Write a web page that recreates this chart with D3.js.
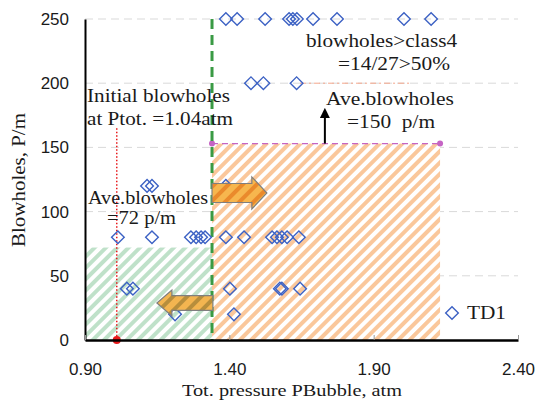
<!DOCTYPE html>
<html>
<head>
<meta charset="utf-8">
<script src="https://cdn.jsdelivr.net/npm/d3@7"></script>
<style>
  html, body { margin: 0; padding: 0; background: #fff; }
  svg { display: block; }
</style>
</head>
<body>
<svg id="chart" width="535" height="408"></svg>
<script>
// ---- data ----
const pressureTD1 = [
  1.388, 1.427, 1.524, 1.607, 1.620, 1.634, 1.690, 1.773, 2.005, 2.099,
  1.475, 1.518, 1.633,
  1.115, 1.132, 1.388,
  1.014, 1.132, 1.267, 1.285, 1.302, 1.316, 1.388, 1.451, 1.548, 1.565, 1.582, 1.600, 1.641,
  1.045, 1.066, 1.402, 1.575, 1.582, 1.645,
  1.212, 1.416
];
const blowholesTD1 = [
  250, 250, 250, 250, 250, 250, 250, 250, 250, 250,
  200, 200, 200,
  120, 120, 120,
  80, 80, 80, 80, 80, 80, 80, 80, 80, 80, 80, 80, 80,
  40, 40, 40, 40, 40, 40,
  20, 20
];
const xTicks = [0.90, 1.40, 1.90, 2.40];
const yTicks = [0, 50, 100, 150, 200, 250];
const thresholdP = 1.34;      // green dashed line
const initialP = 1.01;        // red dotted line
const initialTop = 165;
const aveLow = 72;            // green region height
const aveHigh = 153;          // orange region height
const highEndP = 2.13;        // orange region right end
const class4Line = [1.645, 2.026]; // faint line at 200
const upArrow = {x: 1.731, y0: 153, y1: 180};
const rightArrow = {x0: 1.34, xb: 1.478, xt: 1.530, y: 114.5, bh: 7.4, hh: 12.5};
const leftArrow = {x0: 1.343, xb: 1.201, xt: 1.149, y: 28.8, bh: 5.8, hh: 10.1};

const W = 535, H = 408;
const m = {left: 85, top: 19, right: 17, bottom: 68};
const svg = d3.select("#chart");
const x = d3.scaleLinear().domain([0.9, 2.4]).range([m.left, W - m.right]);
const y = d3.scaleLinear().domain([0, 250]).range([H - m.bottom, m.top]);

const defs = svg.append("defs");
function hatch(id, color, bg, w, sw) {
  const p = defs.append("pattern").attr("id", id)
    .attr("patternUnits", "userSpaceOnUse")
    .attr("width", w).attr("height", w)
    .attr("patternTransform", "rotate(45)");
  p.append("rect").attr("width", w).attr("height", w).attr("fill", bg);
  p.append("rect").attr("width", sw).attr("height", w).attr("fill", color);
}
hatch("hOrange", "#fac79b", "#ffffff", 8, 4);
hatch("hGreen", "#bfe1c9", "#ffffff", 8, 4);
hatch("hArrowR", "#ea8a2c", "#f7b64e", 10, 4);
hatch("hArrowL", "#b78e3c", "#f3b550", 10, 4);

// grid
svg.append("g").selectAll("line").data(yTicks.filter(d => d > 0)).join("line")
  .attr("x1", x(0.9)).attr("x2", x(2.4))
  .attr("y1", d => y(d)).attr("y2", d => y(d))
  .attr("stroke", "#d9d9d9").attr("stroke-width", 1).attr("stroke-dasharray", "8,5");

// hatched regions
svg.append("rect").attr("x", x(0.9)).attr("y", y(aveLow))
  .attr("width", x(thresholdP) - x(0.9)).attr("height", y(0) - y(aveLow))
  .attr("fill", "url(#hGreen)");
svg.append("rect").attr("x", x(thresholdP)).attr("y", y(aveHigh))
  .attr("width", x(highEndP) - x(thresholdP)).attr("height", y(0) - y(aveHigh))
  .attr("fill", "url(#hOrange)");

// faint line at 200
svg.append("line").attr("x1", x(class4Line[0])).attr("x2", x(class4Line[1]))
  .attr("y1", y(200)).attr("y2", y(200))
  .attr("stroke", "#f4a58a").attr("stroke-width", 1).attr("stroke-dasharray", "6,3,2,3");

// magenta average line
svg.append("line").attr("x1", x(thresholdP)).attr("x2", x(highEndP))
  .attr("y1", y(aveHigh)).attr("y2", y(aveHigh))
  .attr("stroke", "#c564c4").attr("stroke-width", 1.3).attr("stroke-dasharray", "6,4");
svg.append("g").selectAll("circle").data([thresholdP, highEndP]).join("circle")
  .attr("cx", d => x(d)).attr("cy", y(aveHigh)).attr("r", 3).attr("fill", "#c564c4");

// green dashed
svg.append("line").attr("x1", x(thresholdP)).attr("x2", x(thresholdP))
  .attr("y1", y(250)).attr("y2", y(0))
  .attr("stroke", "#3a9a44").attr("stroke-width", 3).attr("stroke-dasharray", "10,6");

// red dotted
svg.append("line").attr("x1", x(initialP)).attr("x2", x(initialP))
  .attr("y1", y(initialTop)).attr("y2", y(0))
  .attr("stroke", "#e8191b").attr("stroke-width", 1.5).attr("stroke-dasharray", "1.5,2");
svg.append("circle").attr("cx", x(initialP)).attr("cy", y(0)).attr("r", 4).attr("fill", "#e8191b");

// points
const diamond = d3.symbol(d3.symbolSquare, 80)();
svg.append("g").selectAll("path").data(pressureTD1.map((p, i) => [p, blowholesTD1[i]])).join("path")
  .attr("d", diamond)
  .attr("transform", d => `translate(${x(d[0])},${y(d[1])}) rotate(45)`)
  .attr("fill", "none").attr("stroke", "#3d62c4").attr("stroke-width", 1.4);

// block arrows
function blockArrow(a) {
  const pts = [
    [x(a.x0), y(a.y + a.bh)], [x(a.xb), y(a.y + a.bh)], [x(a.xb), y(a.y + a.hh)],
    [x(a.xt), y(a.y)],
    [x(a.xb), y(a.y - a.hh)], [x(a.xb), y(a.y - a.bh)], [x(a.x0), y(a.y - a.bh)]
  ];
  return "M" + pts.map(p => p.join(",")).join("L") + "Z";
}
svg.append("path").attr("d", blockArrow(rightArrow)).attr("fill", "url(#hArrowR)")
  .attr("stroke", "#7f7f7f").attr("stroke-width", 1.2);
svg.append("path").attr("d", blockArrow(leftArrow)).attr("fill", "url(#hArrowL)")
  .attr("stroke", "#7f7f7f").attr("stroke-width", 1.2);

// black up arrow
defs.append("marker").attr("id", "ah").attr("viewBox", "0 0 10 10")
  .attr("refX", 5).attr("refY", 5).attr("markerWidth", 5).attr("markerHeight", 5)
  .attr("orient", "auto").attr("markerUnits", "strokeWidth")
  .append("path").attr("d", "M0,0L10,5L0,10Z").attr("fill", "#000");
svg.append("line").attr("x1", x(upArrow.x)).attr("x2", x(upArrow.x))
  .attr("y1", y(upArrow.y0)).attr("y2", y(upArrow.y1) + 4)
  .attr("stroke", "#000").attr("stroke-width", 2).attr("marker-end", "url(#ah)");

// annotations
const serif = "'Liberation Serif', 'Times New Roman', serif";
const notes = [
  ["Initial blowholes", 87, 102, 143],
  ["at Ptot. =1.04atm", 87, 125, 146],
  ["blowholes>class4", 306, 47, 151],
  ["=14/27>50%", 338, 70, 112],
  ["Ave.blowholes", 326, 105, 128],
  ["=150  p/m", 347, 128, 88],
  ["Ave.blowholes", 88, 204, 120],
  ["=72 p/m", 107, 224, 69],
  ["TD1", 467, 319, 39]
];
svg.append("g").selectAll("text").data(notes).join("text")
  .attr("x", d => d[1]).attr("y", d => d[2])
  .attr("textLength", d => d[3]).attr("lengthAdjust", "spacingAndGlyphs")
  .style("font-family", serif).style("font-size", "18px").attr("fill", "#1a1a1a")
  .style("white-space", "pre")
  .text(d => d[0]);

// legend diamond
svg.append("path").attr("d", diamond).attr("transform", "translate(452,313) rotate(45)")
  .attr("fill", "none").attr("stroke", "#3d62c4").attr("stroke-width", 1.4);

// axes
const yAxis = svg.append("g").attr("transform", `translate(${m.left},0)`)
  .call(d3.axisLeft(y).tickValues(yTicks).tickSize(0).tickPadding(16));
yAxis.select(".domain").attr("stroke", "#000").attr("stroke-width", 2);
const xAxis = svg.append("g").attr("transform", `translate(0,${y(0)})`)
  .call(d3.axisBottom(x).tickValues(xTicks).tickFormat(d3.format(".2f"))
    .tickSizeInner(-5).tickSizeOuter(0).tickPadding(23));
xAxis.select(".domain").attr("stroke", "#000").attr("stroke-width", 2.5);
xAxis.selectAll(".tick line").attr("stroke", "#999");
svg.selectAll(".tick text").style("font-family", "'Liberation Sans', Arial, sans-serif")
  .style("font-size", "17px").attr("fill", "#1a1a1a");

svg.append("text").attr("x", 182).attr("y", 396).attr("textLength", 220)
  .attr("lengthAdjust", "spacingAndGlyphs")
  .style("font-family", serif).style("font-size", "17px").attr("fill", "#1a1a1a")
  .text("Tot. pressure PBubble, atm");
svg.append("text").attr("transform", "translate(25,247) rotate(-90)")
  .attr("textLength", 134).attr("lengthAdjust", "spacingAndGlyphs")
  .style("font-family", serif).style("font-size", "19px").attr("fill", "#1a1a1a")
  .text("Blowholes, P/m");
</script>
</body>
</html>
